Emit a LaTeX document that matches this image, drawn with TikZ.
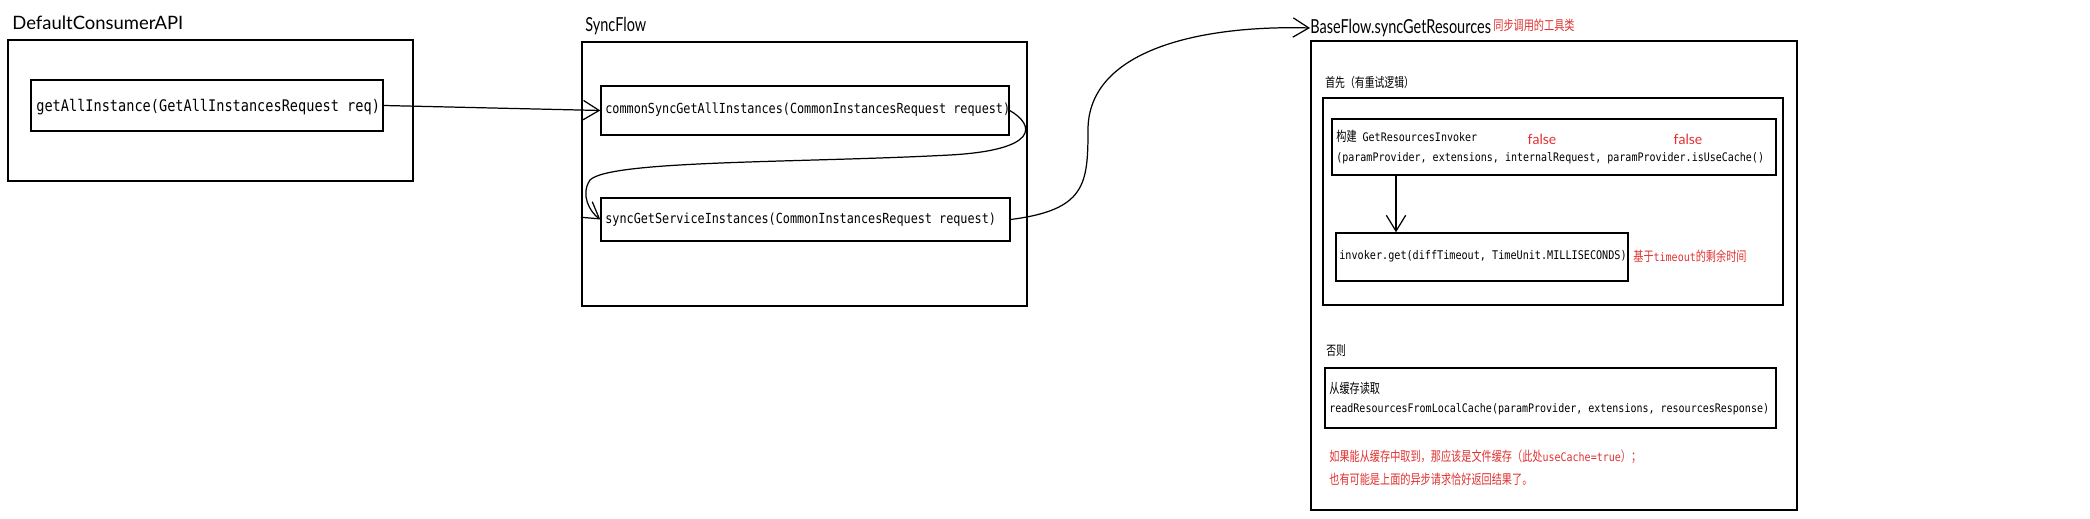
\documentclass[tikz,border=0pt]{standalone}
\usepackage{fontspec}
\usetikzlibrary{arrows.meta,positioning}
\newfontfamily\codefont[FakeStretch=0.85]{DejaVu Sans Mono}
\newfontfamily\cjkfont[FakeStretch=0.75,Scale=1.15]{Noto Sans CJK SC}
\newfontfamily\handfont{Lato}
\newfontfamily\handnarrow[FakeStretch=0.75]{Lato}
\definecolor{notered}{RGB}{224,49,49}

\begin{document}
\begin{tikzpicture}[
  x=0.02cm,y=-0.02cm,
  arr/.style={-{Straight Barb[length=9pt,width=11pt]},line width=0.7pt},
  pbox/.style 2 args={draw,line width=0.8pt,minimum width=#1*0.02cm,
                      minimum height=#2*0.02cm,inner sep=0pt},
  hand/.style={font=\handfont\fontsize{#1}{#1}\selectfont,anchor=west,inner sep=0pt},
  handn/.style={font=\handnarrow\fontsize{#1}{#1}\selectfont,anchor=west,inner sep=0pt},
  code/.style={font=\codefont\fontsize{#1}{11.2}\selectfont,anchor=west,
               inner sep=0pt,align=left},
  cn/.style={font=\fontsize{6.5}{11.2}\selectfont\cjkfont,anchor=west,
             inner sep=0pt,align=left},
  note/.style={font=\fontsize{6.7}{13}\selectfont\cjkfont,anchor=west,
               inner sep=0pt,align=left,text=notered},
]
\useasboundingbox (0,0) rectangle (2090,519);

%% ── DefaultConsumerAPI ───────────────────────────────────────────────────────
\node[hand=10.5] (dcat) at (12,23) {DefaultConsumerAPI};
\node[pbox={405}{141}] (dca) at (210.5,110.5) {};
\node[pbox={352}{51}] (ga) at (207,105.5) {};
\node[code=9.1] (gat) at (36,107) {getAllInstance(GetAllInstancesRequest req)};

%% ── SyncFlow ─────────────────────────────────────────────────────────────────
\node[handn=11] (sft) at (585,26) {SyncFlow};
\node[pbox={445}{264}] (sf) at (804.5,174) {};
\node[pbox={408}{49}] (cs) at (805,110.5) {};
\node[code=7.9] (cst) at (605,110) {commonSyncGetAllInstances(CommonInstancesRequest request)};
\node[pbox={409}{43}] (sg) at (805.5,219.5) {};
\node[code=7.9] (sgt) at (605,220) {syncGetServiceInstances(CommonInstancesRequest request)};

%% ── BaseFlow.syncGetResources ────────────────────────────────────────────────
\node[handn=11] (bft) at (1310,28) {BaseFlow.syncGetResources};
\node[note] (bfn) at (1493,25) {同步调用的工具类};
\node[pbox={486}{469}] (bf) at (1554,275.5) {};

%% first: with retry
\node[cn] (rtt) at (1325,83) {首先（有重试逻辑）};
\node[pbox={460}{207}] (retry) at (1553,201.5) {};
\node[pbox={444}{56}] (bld) at (1554,147) {};
\node[code=6.7] (bldt) at (1336,147)
  {{\cjkfont 构建} GetResourcesInvoker\\(paramProvider, extensions, internalRequest, paramProvider.isUseCache()};
\node[hand=8,text=notered,anchor=center] (f1) at (1542,139) {false};
\node[hand=8,text=notered,anchor=center] (f2) at (1688,139) {false};
\node[pbox={292}{48}] (inv) at (1482,257) {};
\node[code=6.8] (invt) at (1339,256) {invoker.get(diffTimeout, TimeUnit.MILLISECONDS)};
\node[code=6.7,text=notered] (invn) at (1633,256) {{\cjkfont 基于}timeout{\cjkfont 的剩余时间}};

%% otherwise: local cache
\node[cn] (elt) at (1326,351) {否则};
\node[pbox={451}{60}] (cache) at (1550.5,398) {};
\node[code=6.7] (cachet) at (1329,398.5)
  {{\cjkfont 从缓存读取}\\readResourcesFromLocalCache(paramProvider, extensions, resourcesResponse)};
\node[note] (cachen) at (1329,467.5)
  {如果能从缓存中取到，那应该是文件缓存（此处{\codefont useCache=true}）；\\
   也有可能是上面的异步请求恰好返回结果了。};

%% ── Arrows ───────────────────────────────────────────────────────────────────
\draw[arr] (ga.east) -- (cs.west);
\draw[arr] (cs.east) .. controls (1035,125) and (1040,150) .. (950,155)
  .. controls (800,163) and (610,160) .. (590,180)
  .. controls (580,195) and (590,212) .. (sg.west);
\draw[arr] (sg.east) .. controls (1085,210) and (1088,185) .. (1088,130)
  .. controls (1088,50) and (1200,25) .. (bft.west);
\coordinate (ax) at (1396,0);
\draw[arr] (bld.south -| ax) -- (inv.north -| ax);

\end{tikzpicture}
\end{document}
